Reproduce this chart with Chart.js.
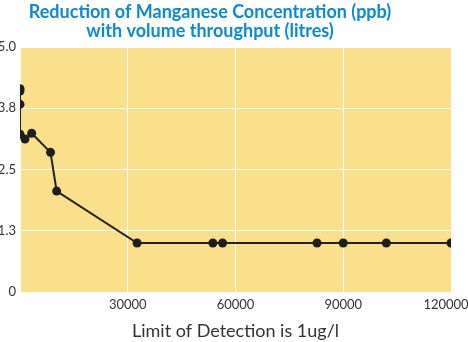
<!DOCTYPE html>
<html>
<head>
<meta charset="utf-8">
<script src="https://cdn.jsdelivr.net/npm/chart.js@4"></script>
<style>
  html, body { margin: 0; padding: 0; background: #fff; }
  #wrap { width: 468px; height: 342px; position: relative; }
</style>
</head>
<body>
<div id="wrap"><canvas id="chart"></canvas></div>
<script>
// Manganese readings against litres passed through the filter
const volumes = [0, 0, 0, 0, 1400, 3250, 8500, 10200, 32600, 53700, 56400, 82700, 90000, 102000, 120000];
const manganese = [4.15, 4.1, 3.83, 3.22, 3.12, 3.24, 2.85, 2.06, 1.0, 1.0, 1.0, 1.0, 1.0, 1.0, 1.0];
const titleLines = ["Reduction of Manganese Concentration (ppb)", "with volume throughput (litres)"];
const xTicks = [0, 30000, 60000, 90000, 120000];
const yTicks = [0, 1.25, 2.5, 3.75, 5.0];

const points = volumes.map((v, i) => ({ x: v, y: manganese[i] }));

// Fill the plot area and draw the two-line heading
const plotBackground = {
  id: "plotBackground",
  beforeDraw(chart) {
    const { ctx, chartArea } = chart;
    ctx.save();
    ctx.fillStyle = "#fbe08b";
    ctx.fillRect(chartArea.left, chartArea.top, chartArea.right - chartArea.left, chartArea.bottom - chartArea.top);
    ctx.restore();
  },
  afterDraw(chart) {
    const ctx = chart.ctx;
    ctx.save();
    ctx.fillStyle = "#0a8ad2";
    ctx.font = "bold 18px Lato";
    ctx.textAlign = "center";
    ctx.textBaseline = "alphabetic";
    ctx.fillText(titleLines[0], 210, 18);
    ctx.fillText(titleLines[1], 210, 37);
    ctx.restore();
  }
};

new Chart(document.getElementById("chart"), {
  type: "scatter",
  data: {
    datasets: [{
      data: points,
      showLine: true,
      borderColor: "#222",
      borderWidth: 2,
      backgroundColor: "#1e1e1e",
      pointRadius: 4.5,
      pointHoverRadius: 4.5,
      pointBorderWidth: 0
    }]
  },
  options: {
    responsive: true,
    maintainAspectRatio: false,
    animation: false,
    layout: { padding: { top: 47, right: 17, left: 0, bottom: 0 } },
    plugins: {
      legend: { display: false },
      tooltip: { enabled: false }
    },
    scales: {
      x: {
        type: "linear",
        min: 0,
        max: 120000,
        afterBuildTicks(scale) {
          scale.ticks = xTicks.map((v) => ({ value: v }));
        },
        afterFit(scale) {
          scale.height = 50;
          scale.paddingLeft = 0;
          scale.paddingRight = 0;
        },
        grid: { color: "#ffffff", lineWidth: 1, drawTicks: false },
        border: { display: false },
        ticks: {
          padding: 5,
          maxRotation: 0,
          color: "#333",
          font: { family: "Lato", size: 13 },
          // last label nudged left so it stays on the canvas
          callback: (v) => (v === 0 ? "" : v === 120000 ? v + "   " : String(v))
        },
        title: {
          display: true,
          text: "Limit of Detection is 1ug/l",
          color: "#333",
          font: { family: "Lato", size: 18 },
          padding: { top: 8, bottom: 0 }
        }
      },
      y: {
        min: 0,
        max: 5,
        afterBuildTicks(scale) {
          scale.ticks = yTicks.map((v) => ({ value: v }));
        },
        afterFit(scale) {
          scale.width = 20;
        },
        grid: { color: "#ffffff", lineWidth: 1, drawTicks: false },
        border: { display: false },
        ticks: {
          padding: 4,
          color: "#333",
          font: { family: "Lato", size: 13 },
          callback: (v) => (v === 0 ? "0" : v.toFixed(1))
        }
      }
    }
  },
  plugins: [plotBackground]
});
</script>
</body>
</html>
